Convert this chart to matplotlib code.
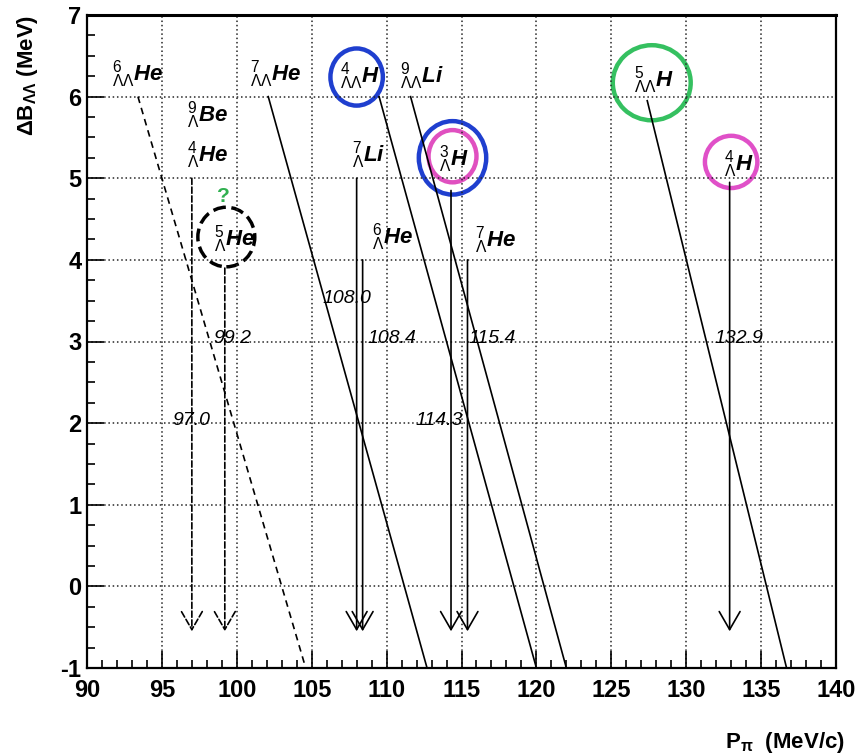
import matplotlib
matplotlib.use("Agg")
import matplotlib.pyplot as plt
from matplotlib.patches import Ellipse
from matplotlib.ticker import MultipleLocator

plt.rcParams['font.family'] = ['Liberation Sans', 'DejaVu Sans']
plt.rcParams['mathtext.fontset'] = 'custom'
plt.rcParams['mathtext.rm'] = 'Liberation Sans'
plt.rcParams['mathtext.it'] = 'Liberation Sans:italic:bold'
plt.rcParams['mathtext.bf'] = 'Liberation Sans:bold'
plt.rcParams['axes.unicode_minus'] = False

# --- double-Lambda hypernuclei: slanted lines (P_pi vs Delta B) ---
dd_names = [r'${}^{6}_{\Lambda\Lambda}\mathit{He}$', r'${}^{7}_{\Lambda\Lambda}\mathit{He}$',
            r'${}^{4}_{\Lambda\Lambda}\mathit{H}$', r'${}^{9}_{\Lambda\Lambda}\mathit{Li}$',
            r'${}^{5}_{\Lambda\Lambda}\mathit{H}$']
dd_x_top = [93.4, 102.1, 109.5, 111.6, 127.4]
dd_y_top = [6.0, 6.0, 6.0, 6.0, 5.95]
dd_x_bot = [104.6, 112.7, 120.0, 122.0, 136.7]
dd_dashed = [True, False, False, False, False]
dd_lab_x = [91.7, 100.9, 106.9, 110.9, 126.5]
dd_lab_y = [6.2, 6.2, 6.17, 6.17, 6.12]

# --- single-Lambda hypernuclei: vertical arrows ---
s_names = [r'${}^{9}_{\Lambda}\mathit{Be}$', r'${}^{4}_{\Lambda}\mathit{He}$',
           r'${}^{5}_{\Lambda}\mathit{He}$', r'${}^{7}_{\Lambda}\mathit{Li}$',
           r'${}^{6}_{\Lambda}\mathit{He}$', r'${}^{3}_{\Lambda}\mathit{H}$',
           r'${}^{7}_{\Lambda}\mathit{He}$', r'${}^{4}_{\Lambda}\mathit{H}$']
s_lab_x = [96.7, 96.7, 98.5, 107.7, 109.0, 113.5, 115.9, 132.5]
s_lab_y = [5.7, 5.2, 4.18, 5.2, 4.2, 5.16, 4.16, 5.1]

arrow_x = [97.0, 99.2, 108.0, 108.4, 114.3, 115.4, 132.9]
arrow_ytop = [5.0, 3.9, 5.0, 4.0, 4.85, 4.0, 4.95]
arrow_dashed = [True, True, False, False, False, False, False]
arrow_tip = -0.55

val_text = ['108.0', '99.2', '108.4', '115.4', '97.0', '114.3', '132.9']
val_x = [105.7, 98.4, 108.7, 115.5, 95.7, 111.9, 131.9]
val_y = [3.47, 2.98, 2.98, 2.98, 1.98, 1.98, 2.98]

# hand-drawn circles: center x, center y, width, height, colour, style
circ_x = [108.0, 114.4, 114.4, 127.7, 133.0, 99.3]
circ_y = [6.24, 5.25, 5.27, 6.17, 5.2, 4.28]
circ_w = [3.5, 4.5, 3.2, 5.2, 3.5, 3.8]
circ_h = [0.70, 0.90, 0.64, 0.92, 0.64, 0.73]
circ_c = ['#1f3fcf', '#1f3fcf', '#e050c0', '#35c060', '#e050c8', 'black']
circ_ls = ['-', '-', '-', '-', '-', '--']

fig = plt.figure(figsize=(8.62, 7.56), dpi=100)
ax = fig.add_axes([87 / 862, 1 - 668 / 756, (836 - 87) / 862, (668 - 15) / 756])
ax.set_xlim(90, 140)
ax.set_ylim(-1, 7)

ax.xaxis.set_major_locator(MultipleLocator(5))
ax.xaxis.set_minor_locator(MultipleLocator(1))
ax.yaxis.set_major_locator(MultipleLocator(1))
ax.yaxis.set_minor_locator(MultipleLocator(0.25))
ax.tick_params(which='both', direction='in', top=False, right=False, width=1.2)
ax.tick_params(which='major', length=12, labelsize=17, pad=8)
ax.tick_params(which='minor', length=6)
ax.tick_params(axis='y', pad=4)
for lab in ax.get_xticklabels() + ax.get_yticklabels():
    lab.set_fontweight('bold')
ax.grid(True, which='major', color='0.15', linestyle=(0, (1, 1.8)), lw=1.1)
for s in ax.spines.values():
    s.set_linewidth(1.6)
ax.spines['top'].set_linewidth(2.2)

for i in range(len(dd_names)):
    ls = (0, (4, 3)) if dd_dashed[i] else '-'
    ax.plot([dd_x_top[i], dd_x_bot[i]], [dd_y_top[i], -1], color='black', lw=1.2, ls=ls)
    ax.text(dd_lab_x[i], dd_lab_y[i], dd_names[i], fontsize=16, va='baseline', ha='left')

for i in range(len(arrow_x)):
    ls = '--' if arrow_dashed[i] else '-'
    ax.annotate('', xy=(arrow_x[i], arrow_tip), xytext=(arrow_x[i], arrow_ytop[i]),
                arrowprops=dict(arrowstyle='->,head_length=1.3,head_width=0.75',
                                color='black', lw=1.2, ls=ls, shrinkA=0, shrinkB=0))

for i in range(len(s_names)):
    ax.text(s_lab_x[i], s_lab_y[i], s_names[i], fontsize=16, va='baseline', ha='left')

for i in range(len(val_text)):
    ax.text(val_x[i], val_y[i], val_text[i], fontsize=14, style='italic',
            va='baseline', ha='left')

for i in range(len(circ_x)):
    lw = 2.5 if circ_ls[i] == '--' else 3.2
    ax.add_patch(Ellipse((circ_x[i], circ_y[i]), circ_w[i], circ_h[i], fill=False,
                         edgecolor=circ_c[i], lw=lw, ls=circ_ls[i]))

# green question mark over 5He
ax.text(99.1, 4.78, '?', color='#30b050', fontsize=15, fontweight='bold',
        ha='center', va='center')

fig.text(28 / 862, 1 - 15 / 756, r'$\mathbf{\Delta B_{\Lambda\Lambda}}$ (MeV)', rotation=90,
         fontsize=16, fontweight='bold', ha='center', va='top')
fig.text(845 / 862, 1 - 748 / 756, r'$\mathbf{P_{\pi}}$  (MeV/c)', fontsize=16,
         fontweight='bold', ha='right', va='baseline')

fig.savefig('out.png', dpi=100)
